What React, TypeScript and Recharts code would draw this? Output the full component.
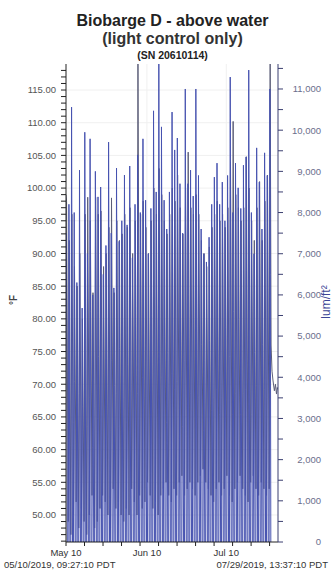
import * as React from 'react';
import { LineChart, Line, XAxis, YAxis, CartesianGrid } from 'recharts';

// time axis in days since May 10 2019 00:00
const START = 0.39387; // 05/10/2019 09:27:10
const END = 80.5675; // 07/29/2019 13:37:10

// daily light readings, lum/ft²: morning, noon peak, afternoon
const lightMorning = [
    3100, 2600, 4200, 2900, 2400, 3600, 2100, 3900, 2800, 3500,
    2300, 3300, 3000, 3400, 2500, 2900, 3800, 2700, 2200, 3600,
    2800, 3100, 3500, 2900, 3700, 2600, 3200, 3600, 3000, 4000,
    3300, 2700, 3100, 4300, 3300, 4600, 4000, 3200, 2900, 3400,
    4100, 3700, 3900, 3400, 2800, 4400, 3500, 3600, 3200, 4500,
    3500, 2900, 2700, 2600, 2900, 3200, 3500, 3700, 3100, 3500,
    3000, 3400, 4500, 3100, 3600, 3300, 3100, 3600, 3700, 4600,
    3100, 2700, 3800, 3400, 2900, 3700, 3500, 4400,
];
const lightPeak = [
    7500, 8200, 10560, 8000, 6300, 9030, 5680, 9950, 7000, 9790,
    6000, 9000, 8380, 8620, 6500, 7200, 9710, 7500, 6170, 9080,
    7300, 7800, 8910, 7700, 9130, 6900, 8200, 9400, 8000, 9790,
    8300, 7000, 8100, 10470, 8500, 11800, 10080, 8300, 7600, 8500,
    10440, 9520, 9810, 8700, 7500, 11000, 8700, 9030, 8400, 11000,
    8900, 7600, 7000, 6800, 7400, 8200, 8860, 9200, 8200, 8740,
    7800, 8900, 11290, 8000, 9200, 8600, 8100, 9150, 9350, 11460,
    8000, 7000, 9570, 8740, 7600, 9450, 8900, 11000,
];
const lightAfternoon = [
    5200, 4300, 6100, 3900, 4500, 5300, 3300, 6200, 4800, 5600,
    3900, 6400, 4500, 5800, 4100, 5000, 6300, 4400, 3800, 5900,
    4700, 5200, 6100, 4300, 5600, 4600, 5300, 6000, 4900, 6700,
    5100, 4200, 5500, 7300, 5200, 6500, 6900, 5000, 4600, 5700,
    6800, 5400, 6200, 5900, 4500, 7000, 6000, 5500, 5300, 7200,
    5700, 4800, 4400, 4200, 4900, 5400, 6100, 5900, 5000, 6000,
    5200, 5500, 6900, 5600, 6300, 5400, 5100, 6200, 6600, 7100,
    5200, 4600, 6400, 5700, 4800, 6300, 6000, 6500,
];

// daily temperature high (afternoon) and low (early morning), °F
const tempHigh = [
    98, 92, 96, 88, 85, 90, 80, 96, 98.6, 95,
    84, 98.6, 96, 96.5, 88, 90, 94, 98.5, 84, 95,
    92, 93, 96, 94, 97, 90, 95, 120, 96, 98,
    94, 90, 95, 100, 96, 103, 99, 95, 93, 96,
    100, 98, 102, 97, 93, 100, 105.5, 97, 96, 99,
    96, 92, 90, 88, 91, 94, 96, 98, 95, 96,
    94, 97, 104, 110.2, 99, 97, 95, 97, 104.8, 100,
    95, 92, 97, 101, 92, 98, 102, 120,
];
const tempLow = [
    50, 49, 47, 50, 52, 48, 51, 49, 47, 50,
    53, 48, 49, 51, 53, 52, 50, 48, 54, 51,
    52, 50, 49, 51, 50, 54, 52, 50, 53, 51,
    52, 55, 53, 51, 52, 50, 53, 54, 55, 53,
    52, 54, 53, 55, 56, 53, 54, 55, 54, 53,
    55, 56, 57, 55, 54, 53, 52, 54, 55, 53,
    54, 56, 53, 52, 54, 55, 56, 54, 53, 52,
    55, 56, 54, 53, 55, 54, 53, 54,
];
const tempStart = 99;
const tailTimes = [77.95, 78.3, 78.7, 79.2, 79.6, 80.0, 80.3, END];
const tailTemps = [76, 72, 70.5, 69, 70, 68.5, 69.5, 69.2];

const monthTicks = [START, 31, 61];
const monthLabels = ['May 10', 'Jun 10', 'Jul 10'];
const weekTicks = Array.from({ length: 12 }, (_, i) => START + i * 7);
const leftTicks = Array.from({ length: 73 }, (_, i) => 46 + i);
const rightTicks = Array.from({ length: 24 }, (_, i) => i * 500);

const lightData: { t: number; lum: number }[] = [];
lightPeak.forEach((p, d) => {
    lightData.push({ t: d + 5 / 24, lum: 0 });
    lightData.push({ t: d + 8.5 / 24, lum: lightMorning[d] });
    lightData.push({ t: d + 12 / 24, lum: p });
    lightData.push({ t: d + 16 / 24, lum: lightAfternoon[d] });
    lightData.push({ t: d + 20.5 / 24, lum: 0 });
});
const lightRows = lightData.filter((r) => r.t >= START);

const tempData: { t: number; temp: number }[] = [{ t: START, temp: tempStart }];
tempHigh.forEach((h, d) => {
    tempData.push({ t: d + 5.5 / 24, temp: tempLow[d] });
    tempData.push({ t: d + 14.5 / 24, temp: h });
});
tailTimes.forEach((t, i) => tempData.push({ t, temp: tailTemps[i] }));
const tempRows = tempData.filter((r) => r.t >= START);

const xTicks = [...weekTicks, 31, 61].sort((a, b) => a - b);

const FONT = '"Liberation Sans", Arial, sans-serif';

const XTick = (props: any) => {
    const { x, payload } = props;
    const v = payload.value;
    const mi = monthTicks.indexOf(v);
    const isWeek = weekTicks.indexOf(v) >= 0;
    return (
        <g>
            {isWeek && <line x1={x} x2={x} y1={542} y2={546} stroke='#222' />}
            {mi >= 0 && (
                <text x={x} y={553} dy='0.35em' textAnchor='middle' fontSize={9.5} fill='#333' fontFamily={FONT}>
                    {monthLabels[mi]}
                </text>
            )}
        </g>
    );
};

const RightTick = (props: any) => {
    const { y, payload } = props;
    if (payload.value % 1000 !== 0) return <g />;
    return (
        <text x={321} y={y} dy='0.35em' textAnchor='end' fontSize={9.5} fill='#6b6e8c' fontFamily={FONT}>
            {payload.value.toLocaleString('en-US')}
        </text>
    );
};

export default function App() {
    return (
        <div style={{ position: 'absolute', left: 0, top: 0, width: 334, height: 575, background: '#fff', fontFamily: FONT }}>
            <div style={{ position: 'absolute', left: 0, top: 13, width: 345, textAlign: 'center', fontSize: 16, fontWeight: 'bold', lineHeight: '16px', color: '#222' }}>
                Biobarge D - above water
            </div>
            <div style={{ position: 'absolute', left: 0, top: 31, width: 345, textAlign: 'center', fontSize: 16, fontWeight: 'bold', lineHeight: '16px', color: '#333' }}>
                (light control only)
            </div>
            <div style={{ position: 'absolute', left: 0, top: 50, width: 345, textAlign: 'center', fontSize: 10.5, fontWeight: 'bold', lineHeight: '10.5px', color: '#222' }}>
                (SN 20610114)
            </div>
            <LineChart width={334} height={575} margin={{ top: 64, right: 0, bottom: 0, left: 0 }}>
                <CartesianGrid
                    yAxisId='left'
                    stroke='#f0f0f0'
                    horizontalValues={[50, 55, 60, 65, 70, 75, 80, 85, 90, 95, 100, 105, 110, 115]}
                    verticalValues={[31, 61]}
                />
                <XAxis
                    dataKey='t'
                    type='number'
                    domain={[START, END]}
                    allowDataOverflow
                    ticks={xTicks}
                    interval={0}
                    height={33}
                    tickLine={false}
                    axisLine={{ stroke: '#222' }}
                    tick={<XTick />}
                />
                <YAxis
                    yAxisId='left'
                    orientation='left'
                    type='number'
                    domain={[45.87, 118.98]}
                    allowDataOverflow
                    ticks={leftTicks}
                    interval={0}
                    width={66}
                    tickSize={5}
                    tickMargin={5}
                    axisLine={{ stroke: '#222' }}
                    tickLine={{ stroke: '#222' }}
                    tick={{ fontSize: 9.5, fill: '#555', fontFamily: FONT }}
                    tickFormatter={(v: number) => (v % 5 === 0 ? v.toFixed(2) : '')}
                />
                <YAxis
                    yAxisId='right'
                    orientation='right'
                    type='number'
                    domain={[0, 11607]}
                    allowDataOverflow
                    ticks={rightTicks}
                    interval={0}
                    width={56}
                    tickSize={5}
                    axisLine={{ stroke: '#3b3f70' }}
                    tickLine={{ stroke: '#3b3f70' }}
                    tick={<RightTick />}
                />
                <Line
                    yAxisId='left'
                    data={tempRows}
                    dataKey='temp'
                    type='linear'
                    stroke='#5c5e78'
                    strokeWidth={1}
                    dot={false}
                    isAnimationActive={false}
                />
                <Line
                    yAxisId='right'
                    data={lightRows}
                    dataKey='lum'
                    type='linear'
                    stroke='#4753b0'
                    strokeWidth={1}
                    dot={false}
                    isAnimationActive={false}
                />
            </LineChart>
            <div style={{ position: 'absolute', left: 4, top: 560, fontSize: 9.5, lineHeight: '10px', color: '#333', whiteSpace: 'nowrap' }}>
                05/10/2019, 09:27:10 PDT
            </div>
            <div style={{ position: 'absolute', right: 6, top: 560, fontSize: 9.5, lineHeight: '10px', color: '#333', whiteSpace: 'nowrap' }}>
                07/29/2019, 13:37:10 PDT
            </div>
            <div style={{ position: 'absolute', left: 13, top: 300, transform: 'translate(-50%, -50%) rotate(-90deg)', fontSize: 10, fontWeight: 'bold', color: '#444', whiteSpace: 'nowrap' }}>
                °F
            </div>
            <div style={{ position: 'absolute', left: 326, top: 302, transform: 'translate(-50%, -50%) rotate(-90deg)', fontSize: 12, color: '#3c4496', whiteSpace: 'nowrap' }}>
                lum/ft²
            </div>
        </div>
    );
}
